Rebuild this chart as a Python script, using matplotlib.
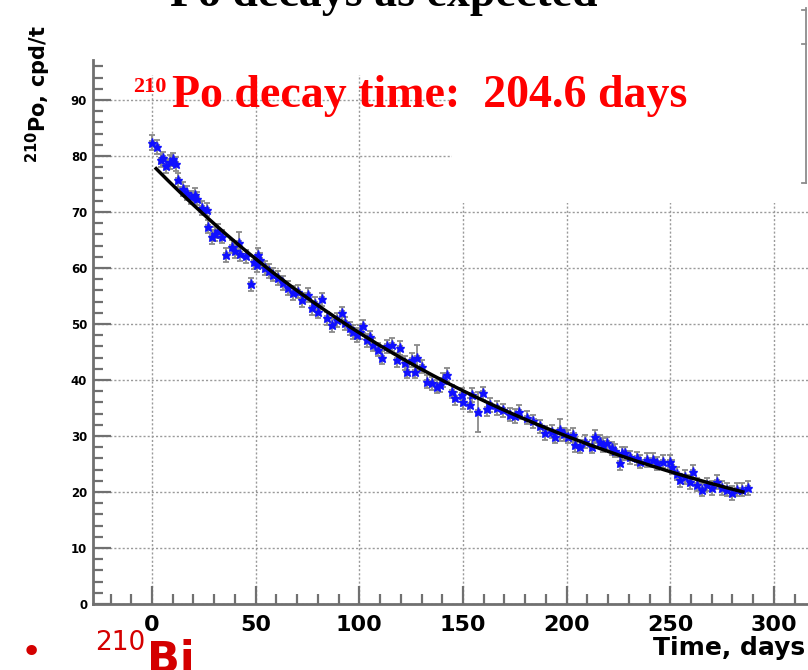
import numpy as np
import matplotlib.pyplot as plt
from matplotlib.ticker import MultipleLocator
from matplotlib.patches import Rectangle
from matplotlib.lines import Line2D

# 210Po rate vs time
days = [0.0, 2.3, 4.2, 5.3, 6.8, 8.5, 10.3, 11.6, 12.7, 14.8, 16.7, 18.6, 20.7, 21.9,
        24.0, 26.4, 27.2, 28.8, 30.4, 32.0, 33.6, 35.7, 38.4, 40.0, 42.0, 42.4, 45.3,
        47.8, 49.0, 50.5, 51.3, 52.3, 54.5, 56.5, 58.5, 60.9, 63.3, 65.8, 68.2, 70.6,
        72.2, 75.4, 77.0, 78.6, 80.2, 81.9, 84.3, 86.7, 89.1, 91.5, 93.1, 95.5, 97.0,
        98.7, 100.3, 101.9, 103.6, 105.2, 106.8, 109.2, 110.8, 113.2, 115.6, 118.0,
        119.6, 122.0, 122.9, 125.3, 126.9, 127.7, 130.1, 132.5, 134.9, 137.3, 138.9,
        140.5, 142.4, 144.6, 146.2, 149.4, 150.2, 153.4, 154.2, 157.4, 159.8, 161.5,
        163.0, 166.3, 169.5, 172.7, 175.0, 176.8, 180.8, 184.0, 187.2, 189.6, 192.8,
        194.4, 196.8, 198.5, 200.5, 203.3, 204.1, 206.5, 208.9, 212.1, 213.7, 216.1,
        217.7, 219.3, 221.7, 223.5, 225.8, 226.5, 228.2, 230.5, 233.8, 235.4, 238.6,
        241.8, 243.4, 246.6, 249.9, 250.7, 253.1, 254.7, 257.1, 259.5, 260.8, 262.7,
        265.2, 267.6, 270.0, 272.4, 274.8, 277.2, 279.6, 282.0, 284.4, 287.6]
rate = [82.4, 81.6, 79.2, 79.6, 78.2, 78.9, 79.4, 78.6, 75.7, 74.1, 73.4, 72.6, 73.0, 72.4,
        70.7, 70.4, 67.4, 65.5, 66.1, 66.6, 65.6, 62.3, 63.8, 63.0, 64.4, 62.5, 62.1,
        57.1, 61.0, 60.5, 62.3, 61.4, 60.0, 59.5, 58.8, 58.2, 57.3, 56.4, 55.5, 55.8,
        54.3, 55.2, 52.8, 53.6, 52.2, 54.4, 51.0, 49.8, 50.7, 51.9, 50.1, 49.2, 48.6,
        48.0, 48.6, 49.6, 47.1, 47.6, 46.3, 45.4, 44.0, 46.0, 46.3, 43.6,
        45.7, 43.0, 41.5, 43.6, 41.5, 44.0, 42.4, 39.7, 39.4, 38.8, 39.1,
        40.0, 40.9, 37.9, 36.7, 37.3, 36.1, 35.5, 37.3, 34.3, 37.6, 34.8,
        35.5, 35.0, 34.6, 33.8, 33.6, 34.3, 33.3, 32.6, 31.7, 30.5, 30.8,
        29.9, 31.1, 30.3, 29.9, 30.2, 28.4, 28.1, 29.0, 28.1, 29.9, 29.0,
        28.4, 28.7, 27.8, 27.4, 25.1, 26.9, 26.9, 26.2, 26.0, 25.4, 25.7,
        25.7, 25.1, 25.4, 25.4, 24.5, 23.3, 22.1, 22.7, 21.8, 23.6, 21.3,
        20.4, 21.3, 20.7, 21.8, 20.7, 20.4, 19.8, 20.4, 20.4, 20.7]
wide_err = {0.0: 1.4, 42.0: 2.0, 127.7: 2.3, 157.4: 3.5, 196.8: 2.0}
rate_err = [wide_err.get(d, 1.2) for d in days]

# exponential fit
tau = 204.6
amp = 77.8
base = 0.7
fit_start, fit_end = 2.0, 285.0

W, H = 808, 670
fig = plt.figure(figsize=(W / 100, H / 100), dpi=100)

ax = fig.add_axes([92.7 / W, 66 / H, 722.7 / W, 544 / H])
ax.set_xlim(-28.6, 320)
ax.set_ylim(0, 97.14)

axis_gray = '#707070'
ax.xaxis.set_major_locator(MultipleLocator(50))
ax.xaxis.set_minor_locator(MultipleLocator(10))
ax.yaxis.set_major_locator(MultipleLocator(10))
ax.yaxis.set_minor_locator(MultipleLocator(2))
ax.grid(True, which='major', ls=(0, (1.5, 1.5)), color='#9a9a9a', lw=1.0)
ax.set_axisbelow(True)

for s in ['top', 'right']:
    ax.spines[s].set_visible(False)
for s in ['left', 'bottom']:
    ax.spines[s].set_color(axis_gray)
    ax.spines[s].set_linewidth(2)

ax.tick_params(which='both', direction='in', color=axis_gray, width=1.6)
ax.tick_params(which='major', length=13)
ax.tick_params(which='minor', length=7)
ax.tick_params(axis='x', which='major', labelsize=16, pad=8)
ax.tick_params(axis='y', which='major', labelsize=8.5, pad=4)
for lab in ax.get_xticklabels() + ax.get_yticklabels():
    lab.set_fontweight('bold')

ax.errorbar(days, rate, yerr=rate_err, xerr=1.0, fmt='none', ecolor='#8a8a8a',
            elinewidth=1.3, capsize=2.5, capthick=1.3, zorder=3)
ax.plot(days, rate, ls='none', marker='*', ms=6.5, color='#1010ff', zorder=4)

t_fit = np.linspace(fit_start, fit_end, 300)
ax.plot(t_fit, amp * np.exp(-t_fit / tau) + base, color='black', lw=2.5, zorder=5)

# axis titles
fig.text(38 / W, 1 - 94 / H, r'$^{\bf 210}$Po, cpd/t', rotation=90, fontsize=15,
         fontweight='bold', ha='center', va='center')
fig.text(805 / W, 1 - 655 / H, 'Time, days', fontsize=18, fontweight='bold',
         ha='right', va='baseline')

# white boxes over the upper part of the plot
fig.patches.append(Rectangle((110 / W, 1 - 75 / H), 698 / W, 75 / H,
                             transform=fig.transFigure, fc='white', ec='none', zorder=1))
fig.patches.append(Rectangle((452 / W, 1 - 203 / H), 356 / W, 203 / H,
                             transform=fig.transFigure, fc='white', ec='none', zorder=1))

# frame edge on the right
edge_col = '#8c8c8c'
fig.add_artist(Line2D([806 / W, 806 / W], [1 - 8 / H, 1 - 183 / H], color=edge_col,
                      lw=1.3, transform=fig.transFigure, zorder=2))
for yy in [10, 44, 183]:
    fig.add_artist(Line2D([802 / W, 806 / W], [1 - yy / H, 1 - yy / H], color=edge_col,
                          lw=1.3, transform=fig.transFigure, zorder=2))

# slide title, cut off at the top
fig.text(170 / W, 1 - 6 / H, 'Po decays as expected', fontsize=33, fontweight='bold',
         family='Liberation Serif', ha='left', va='baseline', zorder=3)

red = '#ff0000'
fig.text(133 / W, 1 - 92 / H, '210', fontsize=16, fontweight='bold', color=red,
         family='Liberation Serif', ha='left', va='baseline', zorder=3)
fig.text(172 / W, 1 - 107 / H, 'Po decay time:  204.6 days', fontsize=33,
         fontweight='bold', color=red, family='Liberation Serif', ha='left',
         va='baseline', zorder=3)

dark_red = '#d40000'
fig.text(31 / W, 1 - 653 / H, '\u2022', fontsize=26, color=dark_red, ha='center',
         va='center')
fig.text(95 / W, 1 - 650 / H, '210', fontsize=19, color=dark_red, ha='left',
         va='baseline')
fig.text(147 / W, 1 - 672 / H, 'Bi', fontsize=31, fontweight='bold', color=dark_red,
         ha='left', va='baseline')

fig.savefig('out.png', dpi=100)
